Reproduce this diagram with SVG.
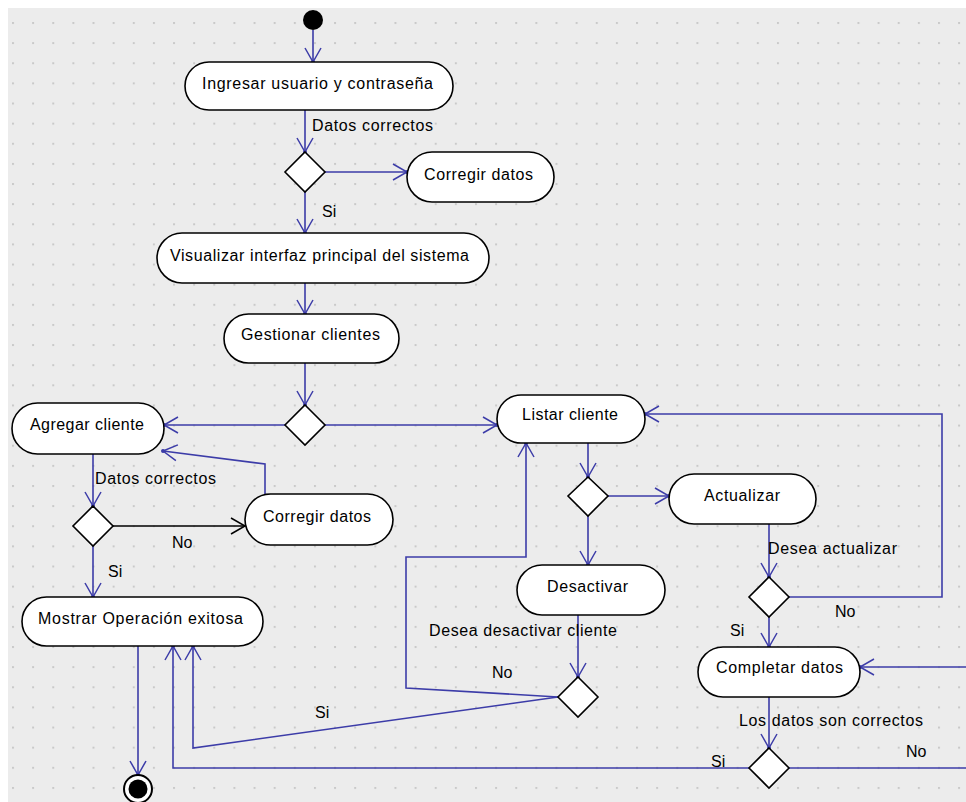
<svg xmlns="http://www.w3.org/2000/svg" width="966" height="802" viewBox="0 0 966 802">
  <style>
    .node { fill: #ffffff; stroke: #000000; stroke-width: 1.6; }
    .lbl { font-family: "Liberation Sans", Arial, sans-serif; font-size: 16px; fill: #000000; }
    .flow { fill: none; stroke: #3c3ca8; stroke-width: 1.6; marker-end: url(#arrow); }
    .flow-plain { fill: none; stroke: #3c3ca8; stroke-width: 1.6; }
    .flow-black { fill: none; stroke: #000000; stroke-width: 1.6; marker-end: url(#arrowBlack); }
  </style>
  <defs>
    <pattern id="grid" patternUnits="userSpaceOnUse" x="12" y="22" width="20.13" height="20.13">
      <rect x="0" y="0" width="2" height="2" fill="#c9c9c9"/>
    </pattern>
    <marker id="arrow" markerUnits="userSpaceOnUse" viewBox="-16 -10 18 20" refX="0" refY="0" markerWidth="18" markerHeight="20" orient="auto" overflow="visible">
      <path d="M-14,-8 L0,0 L-14,8" fill="none" stroke="#3c3ca8" stroke-width="1.5"/>
      <circle cx="0" cy="0" r="2" fill="#3c3ca8"/>
    </marker>
    <marker id="arrowBlack" markerUnits="userSpaceOnUse" viewBox="-16 -10 18 20" refX="0" refY="0" markerWidth="18" markerHeight="20" orient="auto" overflow="visible">
      <path d="M-14,-8 L0,0 L-14,8" fill="none" stroke="#000000" stroke-width="1.5"/>
    </marker>
  </defs>

  <!-- canvas -->
  <rect x="0" y="0" width="966" height="802" fill="#ffffff"/>
  <rect x="8" y="8" width="958" height="794" fill="#ececec"/>
  <rect x="8" y="8" width="958" height="794" fill="url(#grid)"/>

  <!-- connectors -->
  <g id="connectors">
    <path class="flow" d="M313,30 L313,62"/>
    <path class="flow" d="M305,110 L305,152"/>
    <path class="flow" d="M325,172 L407,172"/>
    <path class="flow" d="M305,192 L305,233"/>
    <path class="flow" d="M305,283 L305,314"/>
    <path class="flow" d="M305,363 L305,405"/>
    <path class="flow" d="M285,425 L164,425"/>
    <path class="flow" d="M325,425 L497,425"/>
    <path class="flow" d="M93,454 L93,506"/>
    <path class="flow-black" d="M113,526 L245,526"/>
    <path class="flow" d="M265,494 L265,464 L163,451"/>
    <path class="flow" d="M93,546 L93,597"/>
    <path class="flow" d="M138,646 L138,775"/>
    <path class="flow" d="M588,443 L588,477"/>
    <path class="flow" d="M607,496 L669,496"/>
    <path class="flow" d="M588,516 L588,565"/>
    <path class="flow" d="M578,615 L578,677"/>
    <path class="flow" d="M558,697 L406,688 L406,557 L526,557 L526,443"/>
    <path class="flow" d="M558,697 L193,748 L193,646"/>
    <path class="flow" d="M769,524 L769,577"/>
    <path class="flow" d="M789,597 L942,597 L942,414 L645,414"/>
    <path class="flow" d="M769,617 L769,647"/>
    <path class="flow" d="M966,667 L860,667"/>
    <path class="flow" d="M769,697 L769,748"/>
    <path class="flow" d="M749,768 L173,768 L173,646"/>
    <path class="flow-plain" d="M789,768 L966,768"/>
  </g>

  <!-- start / end -->
  <g id="start"><circle cx="313" cy="20" r="10" fill="#000000"/></g>
  <g id="end">
    <circle cx="138" cy="789" r="14" fill="#ffffff" stroke="#000000" stroke-width="2"/>
    <circle cx="138" cy="789" r="9.5" fill="#000000"/>
  </g>

  <!-- actions -->
  <g id="ingresar">
    <rect class="node" x="185" y="62" width="268" height="48" rx="24"/>
    <text class="lbl" x="202" y="89" textLength="231">Ingresar usuario y contraseña</text>
  </g>
  <g id="corregir1">
    <rect class="node" x="407" y="152" width="147" height="50" rx="25"/>
    <text class="lbl" x="424" y="180" textLength="109">Corregir datos</text>
  </g>
  <g id="visualizar">
    <rect class="node" x="157" y="233" width="332" height="50" rx="25"/>
    <text class="lbl" x="170" y="261" textLength="299">Visualizar interfaz principal del sistema</text>
  </g>
  <g id="gestionar">
    <rect class="node" x="224" y="314" width="175" height="49" rx="24.5"/>
    <text class="lbl" x="241" y="340" textLength="139">Gestionar clientes</text>
  </g>
  <g id="agregar">
    <rect class="node" x="12" y="403" width="152" height="51" rx="25.5"/>
    <text class="lbl" x="30" y="430" textLength="114">Agregar cliente</text>
  </g>
  <g id="corregir2">
    <rect class="node" x="245" y="494" width="148" height="51" rx="25.5"/>
    <text class="lbl" x="263" y="522" textLength="108">Corregir datos</text>
  </g>
  <g id="mostrar">
    <rect class="node" x="22" y="597" width="241" height="49" rx="24.5"/>
    <text class="lbl" x="38" y="624" textLength="205">Mostrar Operación exitosa</text>
  </g>
  <g id="listar">
    <rect class="node" x="497" y="395" width="148" height="48" rx="24"/>
    <text class="lbl" x="522" y="420" textLength="96">Listar cliente</text>
  </g>
  <g id="actualizar">
    <rect class="node" x="669" y="474" width="147" height="50" rx="25"/>
    <text class="lbl" x="704" y="501" textLength="76">Actualizar</text>
  </g>
  <g id="desactivar">
    <rect class="node" x="517" y="565" width="148" height="50" rx="25"/>
    <text class="lbl" x="547" y="592" textLength="81">Desactivar</text>
  </g>
  <g id="completar">
    <rect class="node" x="698" y="647" width="162" height="50" rx="25"/>
    <text class="lbl" x="716" y="673" textLength="127">Completar datos</text>
  </g>

  <!-- decisions -->
  <g id="decision-login"><path class="node" d="M305,152 L325,172 L305,192 L285,172 Z"/></g>
  <g id="decision-gestion"><path class="node" d="M305,405 L325,425 L305,445 L285,425 Z"/></g>
  <g id="decision-agregar"><path class="node" d="M93,506 L113,526 L93,546 L73,526 Z"/></g>
  <g id="decision-listar"><path class="node" d="M588,477 L608,496 L588,516 L568,496 Z"/></g>
  <g id="decision-desactivar"><path class="node" d="M578,677 L598,697 L578,717 L558,697 Z"/></g>
  <g id="decision-actualizar"><path class="node" d="M769,577 L789,597 L769,617 L749,597 Z"/></g>
  <g id="decision-datos"><path class="node" d="M769,748 L789,768 L769,788 L749,768 Z"/></g>

  <!-- guard labels -->
  <g id="guards">
    <text class="lbl" x="312" y="131" textLength="121">Datos correctos</text>
    <text class="lbl" x="322" y="217">Si</text>
    <text class="lbl" x="95" y="484" textLength="121">Datos correctos</text>
    <text class="lbl" x="172" y="548">No</text>
    <text class="lbl" x="108" y="577">Si</text>
    <text class="lbl" x="429" y="636" textLength="188">Desea desactivar cliente</text>
    <text class="lbl" x="492" y="678">No</text>
    <text class="lbl" x="315" y="718">Si</text>
    <text class="lbl" x="768" y="554" textLength="129">Desea actualizar</text>
    <text class="lbl" x="835" y="617">No</text>
    <text class="lbl" x="730" y="636">Si</text>
    <text class="lbl" x="739" y="726" textLength="184">Los datos son correctos</text>
    <text class="lbl" x="711" y="767">Si</text>
    <text class="lbl" x="906" y="757">No</text>
  </g>
</svg>
